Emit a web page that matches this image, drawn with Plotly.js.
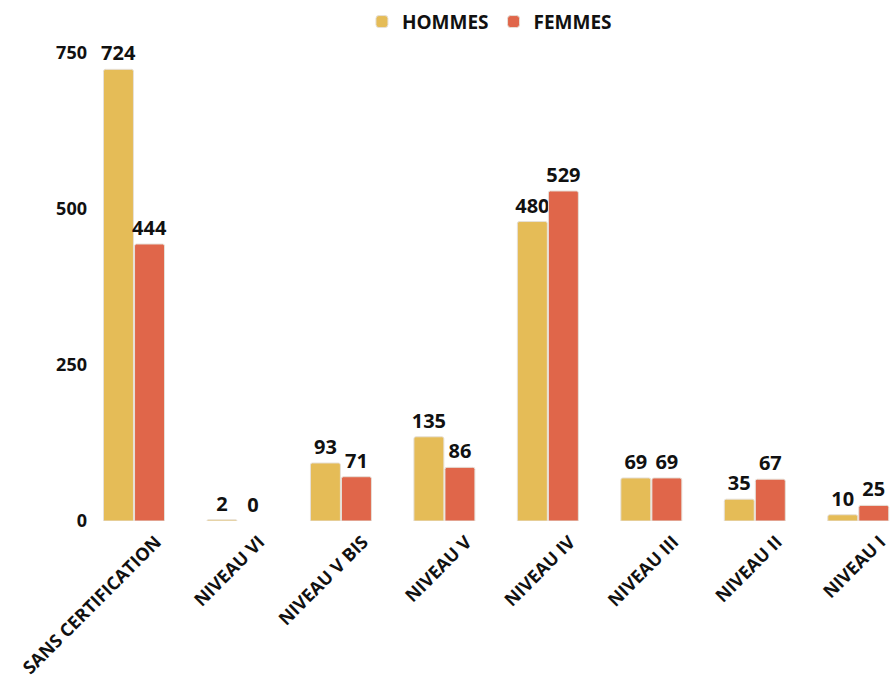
<!DOCTYPE html>
<html><head><meta charset="utf-8">
<script src="https://cdn.plot.ly/plotly-3.0.1.min.js"></script>
<style>html,body{margin:0;padding:0;overflow:hidden;background:#fff}</style>
</head><body><div id="chart"></div>
<script>
const categories = ["SANS CERTIFICATION","NIVEAU VI","NIVEAU V BIS","NIVEAU V","NIVEAU IV","NIVEAU III","NIVEAU II","NIVEAU I"];
const hommes = [724, 2, 93, 135, 480, 69, 35, 10];
const femmes = [444, 0, 71, 86, 529, 69, 67, 25];
const yTicks = [0, 250, 500, 750];

const font = "'Open Sans', 'Noto Sans', sans-serif";
function trace(name, vals, color) {
  return {
    type: 'bar', name: name, x: categories, y: vals,
    text: vals.map(String), textposition: 'outside', cliponaxis: false, constraintext: 'none',
    textfont: {family: font, size: 20, color: '#111', weight: 700},
    marker: {color: color, line: {color: '#e6e0d8', width: vals.map(v => v > 0 ? 1 : 0)}, cornerradius: 2},
    hoverinfo: 'none'
  };
}
const data = [trace('HOMMES', hommes, '#E5BC57'), trace('FEMMES', femmes, '#E0664A')];
const layout = {
  width: 910, height: 684,
  margin: {l: 92, r: 0, t: 40, b: 163, autoexpand: false},
  paper_bgcolor: '#fff', plot_bgcolor: '#fff',
  barmode: 'group', bargap: 0.4, bargroupgap: 0.035,
  font: {family: font, color: '#111'},
  xaxis: {range: [-0.406, 7.5], tickangle: -45, showgrid: false, zeroline: false, showline: false, ticks: '',
          ticklabelshift: 22, ticklabelstandoff: 6,
          tickfont: {family: font, size: 18, color: '#111', weight: 700}},
  yaxis: {range: [0, 771], tickvals: yTicks, ticktext: yTicks.map(String), showgrid: false, zeroline: false, showline: false,
          ticks: '', ticklabelstandoff: 4,
          tickfont: {family: font, size: 18, color: '#111', weight: 700}},
  legend: {orientation: 'h', x: 0.33, xanchor: 'left', y: 1.038, yanchor: 'middle',
           font: {family: font, size: 19, color: '#111', weight: 700}, itemwidth: 30},
  showlegend: true
};
Plotly.newPlot('chart', data, layout, {displayModeBar: false, staticPlot: true});
</script></body></html>
